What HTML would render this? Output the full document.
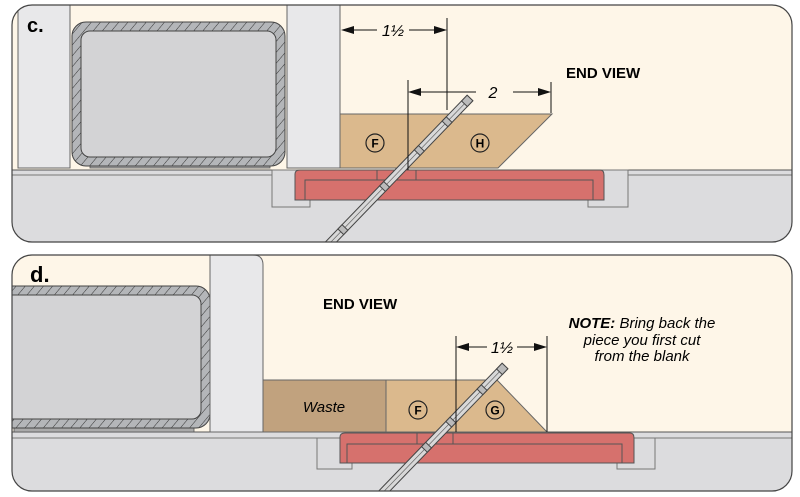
<!DOCTYPE html>
<html><head><meta charset="utf-8"><style>
html,body{margin:0;padding:0;background:#fff;}
svg{display:block;}
text{font-family:"Liberation Sans",sans-serif;}
</style></head><body>
<svg width="800" height="497" viewBox="0 0 800 497" xmlns="http://www.w3.org/2000/svg">
<defs>
<pattern id="hatch" width="7" height="7" patternUnits="userSpaceOnUse" patternTransform="rotate(40)">
<rect width="7" height="7" fill="#b4b6b9"/><line x1="0" y1="0" x2="0" y2="7" stroke="#333" stroke-width="1"/>
</pattern>
<clipPath id="cc"><rect x="12" y="5" width="780" height="237" rx="20"/></clipPath>
<clipPath id="cd"><rect x="12" y="255" width="780" height="236" rx="20"/></clipPath>
</defs>

<!-- PANEL C -->
<g clip-path="url(#cc)">
<rect x="12" y="5" width="780" height="237" fill="#fef6e8"/>
<rect x="12" y="170" width="780" height="72" fill="#dcdcde" stroke="#555" stroke-width="1"/>
<line x1="12" y1="175" x2="792" y2="175" stroke="#777" stroke-width="1"/>
<rect x="18" y="5" width="52" height="163" fill="#e8e8ea" stroke="#666"/>
<rect x="287" y="5" width="53" height="163" fill="#e8e8ea" stroke="#666"/>
<rect x="90" y="163" width="180" height="5" fill="#aaa" stroke="#555" stroke-width="0.8"/>
<rect x="72" y="22" width="213" height="144" rx="14" fill="url(#hatch)" stroke="#444"/>
<rect x="81" y="31" width="195" height="126" rx="9" fill="#d3d3d5" stroke="#444"/>
<rect x="272" y="170" width="38" height="37" fill="#dcdcde" stroke="#777"/>
<rect x="588" y="170" width="40" height="37" fill="#dcdcde" stroke="#777"/>
<path d="M295,174 Q295,170 300,170 L600,170 Q604,170 604,175 L604,200 L295,200 Z" fill="#d6716d" stroke="#555"/>
<path d="M305,180 L593,180 L593,200 L305,200 Z" fill="#d6716d" stroke="#555"/>
<rect x="377" y="170" width="39" height="10" fill="#d6716d" stroke="#555"/>
<polygon points="340,114 552,114 498,168 340,168" fill="#dbb98d" stroke="#666"/>
<circle cx="375" cy="143" r="9" fill="none" stroke="#222" stroke-width="1.2"/>
<text x="375" y="147.5" font-size="12" font-weight="bold" text-anchor="middle">F</text>
<circle cx="480" cy="143" r="9" fill="none" stroke="#222" stroke-width="1.2"/>
<text x="480" y="147.5" font-size="12" font-weight="bold" text-anchor="middle">H</text>
<g transform="translate(470,98) rotate(134)">
<rect x="0" y="-4" width="205" height="8" fill="#d8d8d8" stroke="#444" stroke-width="1"/>
<line x1="0" y1="0" x2="205" y2="0" stroke="#666" stroke-width="0.7"/>
<rect x="0" y="-4" width="8" height="8" fill="#bbb" stroke="#444"/>
<rect x="30" y="-4" width="6" height="8" fill="#bbb" stroke="#444"/>
<rect x="70" y="-4" width="6" height="8" fill="#bbb" stroke="#444"/>
<rect x="120" y="-4" width="6" height="8" fill="#bbb" stroke="#444"/>
<rect x="180" y="-4" width="6" height="8" fill="#bbb" stroke="#444"/>
</g>
</g>
<rect x="12" y="5" width="780" height="237" rx="20" fill="none" stroke="#444" stroke-width="1.2"/>
<text x="27" y="32" font-size="20" font-weight="bold">c.</text>
<line x1="447" y1="18" x2="447" y2="110" stroke="#111"/>
<line x1="346" y1="30" x2="377" y2="30" stroke="#111"/>
<line x1="409" y1="30" x2="440" y2="30" stroke="#111"/>
<polygon points="341,30 354,26 354,34" fill="#111"/>
<polygon points="447,30 434,26 434,34" fill="#111"/>
<text x="393" y="36" font-size="16" font-style="italic" text-anchor="middle">1½</text>
<line x1="408" y1="80" x2="408" y2="170" stroke="#111"/>
<line x1="551" y1="82" x2="551" y2="113" stroke="#111"/>
<line x1="414" y1="92" x2="476" y2="92" stroke="#111"/>
<line x1="513" y1="92" x2="545" y2="92" stroke="#111"/>
<polygon points="408,92 421,88 421,96" fill="#111"/>
<polygon points="551,92 538,88 538,96" fill="#111"/>
<text x="493" y="98" font-size="16" font-style="italic" text-anchor="middle">2</text>
<text x="566" y="78" font-size="15" font-weight="bold">END VIEW</text>

<!-- PANEL D -->
<g clip-path="url(#cd)">
<rect x="12" y="255" width="780" height="236" fill="#fef6e8"/>
<rect x="12" y="432" width="780" height="60" fill="#dcdcde" stroke="#555"/>
<line x1="12" y1="438" x2="792" y2="438" stroke="#777"/>
<rect x="14" y="426" width="180" height="6" fill="#aaa" stroke="#555" stroke-width="0.8"/>
<rect x="-20" y="286" width="230" height="142" rx="14" fill="url(#hatch)" stroke="#444"/>
<rect x="-12" y="295" width="213" height="124" rx="9" fill="#d3d3d5" stroke="#444"/>
<path d="M210,255 L253,255 Q263,255 263,265 L263,432 L210,432 Z" fill="#e8e8ea" stroke="#666"/>
<rect x="317" y="438" width="35" height="31" fill="#dcdcde" stroke="#777"/>
<rect x="617" y="438" width="38" height="31" fill="#dcdcde" stroke="#777"/>
<path d="M340,437 Q340,433 345,433 L630,433 Q634,433 634,438 L634,463 L340,463 Z" fill="#d6716d" stroke="#555"/>
<path d="M347,444 L622,444 L622,463 L347,463 Z" fill="#d6716d" stroke="#555"/>
<rect x="417" y="433" width="36" height="11" fill="#d6716d" stroke="#555"/>
<rect x="263" y="380" width="123" height="52" fill="#c1a27e" stroke="#666"/>
<text x="324" y="412" font-size="15" font-style="italic" text-anchor="middle">Waste</text>
<polygon points="386,380 497,380 547,432 386,432" fill="#dbb98d" stroke="#666"/>
<circle cx="418" cy="410" r="9" fill="none" stroke="#222" stroke-width="1.2"/>
<text x="418" y="414.5" font-size="12" font-weight="bold" text-anchor="middle">F</text>
<circle cx="495" cy="410" r="9" fill="none" stroke="#222" stroke-width="1.2"/>
<text x="495" y="414.5" font-size="12" font-weight="bold" text-anchor="middle">G</text>
<g transform="translate(505,366) rotate(134)">
<rect x="0" y="-4" width="190" height="8" fill="#d8d8d8" stroke="#444" stroke-width="1"/>
<line x1="0" y1="0" x2="190" y2="0" stroke="#666" stroke-width="0.7"/>
<rect x="0" y="-4" width="8" height="8" fill="#bbb" stroke="#444"/>
<rect x="30" y="-4" width="6" height="8" fill="#bbb" stroke="#444"/>
<rect x="75" y="-4" width="6" height="8" fill="#bbb" stroke="#444"/>
<rect x="110" y="-4" width="6" height="8" fill="#bbb" stroke="#444"/>
</g>
</g>
<rect x="12" y="255" width="780" height="236" rx="20" fill="none" stroke="#444" stroke-width="1.2"/>
<text x="30" y="282" font-size="22" font-weight="bold">d.</text>
<line x1="456" y1="336" x2="456" y2="432" stroke="#111"/>
<line x1="547" y1="336" x2="547" y2="432" stroke="#111"/>
<line x1="462" y1="347" x2="487" y2="347" stroke="#111"/>
<line x1="517" y1="347" x2="541" y2="347" stroke="#111"/>
<polygon points="456,347 469,343 469,351" fill="#111"/>
<polygon points="547,347 534,343 534,351" fill="#111"/>
<text x="502" y="353" font-size="16" font-style="italic" text-anchor="middle">1½</text>
<text x="323" y="309" font-size="15" font-weight="bold">END VIEW</text>
<text x="642" y="328" font-size="15" font-style="italic" text-anchor="middle"><tspan font-weight="bold">NOTE:</tspan> Bring back the</text>
<text x="642" y="345" font-size="15" font-style="italic" text-anchor="middle">piece you first cut</text>
<text x="642" y="361" font-size="15" font-style="italic" text-anchor="middle">from the blank</text>
</svg>
</body></html>
